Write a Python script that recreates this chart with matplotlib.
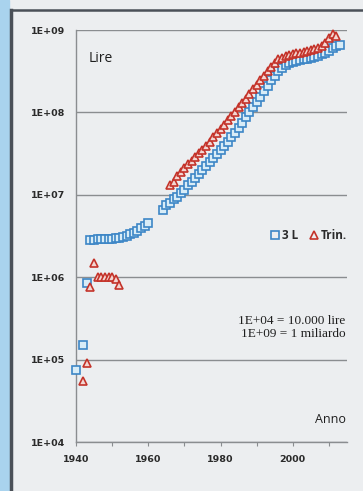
import matplotlib
matplotlib.use("Agg")
import matplotlib.pyplot as plt
from matplotlib.lines import Line2D

# ---- data ----
years_3l = [1940, 1942, 1943, 1944, 1945, 1946, 1947, 1948, 1949, 1950, 1951, 1952,
            1953, 1954, 1955, 1956, 1957, 1958, 1959, 1960,
            1964, 1965, 1966, 1967, 1968, 1969, 1970, 1971, 1972, 1973, 1974, 1975,
            1976, 1977, 1978, 1979, 1980, 1981, 1982, 1983, 1984, 1985, 1986, 1987,
            1988, 1989, 1990, 1991, 1992, 1993, 1994, 1995, 1996, 1997, 1998, 1999,
            2000, 2001, 2002, 2003, 2004, 2005, 2006, 2007, 2008, 2009, 2010, 2011,
            2012, 2013]
lire_3l = [7.5e4, 1.5e5, 8.5e5, 2.8e6, 2.8e6, 2.9e6, 2.9e6, 2.9e6, 2.9e6, 2.9e6, 3.0e6, 3.0e6,
           3.1e6, 3.2e6, 3.3e6, 3.4e6, 3.6e6, 4.0e6, 4.2e6, 4.6e6,
           6.5e6, 7.5e6, 8.0e6, 9.0e6, 9.5e6, 1.05e7, 1.15e7, 1.3e7, 1.45e7, 1.6e7, 1.8e7, 2.0e7,
           2.25e7, 2.5e7, 2.8e7, 3.1e7, 3.5e7, 3.9e7, 4.4e7, 5.0e7, 5.7e7, 6.5e7, 7.5e7, 8.8e7,
           1.02e8, 1.17e8, 1.35e8, 1.55e8, 1.8e8, 2.1e8, 2.45e8, 2.8e8, 3.2e8, 3.5e8, 3.75e8, 3.95e8,
           4.1e8, 4.2e8, 4.3e8, 4.4e8, 4.5e8, 4.6e8, 4.75e8, 4.9e8, 5.1e8, 5.3e8, 5.6e8, 6.0e8,
           6.4e8, 6.6e8]

years_trin = [1942, 1943, 1944, 1945, 1946, 1947, 1948, 1949, 1950, 1951, 1952,
              1966, 1967, 1968, 1969, 1970, 1971, 1972, 1973, 1974, 1975, 1976, 1977,
              1978, 1979, 1980, 1981, 1982, 1983, 1984, 1985, 1986, 1987, 1988, 1989,
              1990, 1991, 1992, 1993, 1994, 1995, 1996, 1997, 1998, 1999, 2000, 2001,
              2002, 2003, 2004, 2005, 2006, 2007, 2008, 2009, 2010, 2011, 2012]
lire_trin = [5.5e4, 9.2e4, 7.5e5, 1.5e6, 1.0e6, 1.0e6, 1.0e6, 1.0e6, 1.0e6, 0.95e6, 8.0e5,
             1.3e7, 1.45e7, 1.7e7, 1.9e7, 2.1e7, 2.35e7, 2.6e7, 2.9e7, 3.2e7, 3.5e7, 3.9e7, 4.4e7,
             5.0e7, 5.6e7, 6.3e7, 7.1e7, 8.0e7, 9.0e7, 1.02e8, 1.15e8, 1.3e8, 1.47e8, 1.65e8, 1.9e8,
             2.15e8, 2.45e8, 2.8e8, 3.2e8, 3.6e8, 4.0e8, 4.4e8, 4.6e8, 4.8e8, 5.0e8, 5.1e8, 5.2e8,
             5.3e8, 5.4e8, 5.5e8, 5.7e8, 5.9e8, 6.1e8, 6.4e8, 7.0e8, 8.0e8, 9.0e8, 8.5e8]

x_ticks = [1940, 1960, 1980, 2000]
y_ticks = [1e4, 1e5, 1e6, 1e7, 1e8, 1e9]
y_labels = ["1E+04", "1E+05", "1E+06", "1E+07", "1E+08", "1E+09"]
series_names = ["3 L", "Trin."]
note_lines = ["1E+04 = 10.000 lire", "1E+09 = 1 miliardo"]

# ---- figure ----
W, H = 363, 491
bg = "#eceef0"
fig = plt.figure(figsize=(W / 100, H / 100), dpi=100, facecolor=bg)

# photo frame details
fig.patches.append(plt.Rectangle((0, 0), 9 / W, 1, transform=fig.transFigure,
                                 color="#a9d3ee", zorder=0))
fig.add_artist(Line2D([11 / W, 11 / W], [0, 1 - 10 / H], transform=fig.transFigure,
                      color="#4a5058", lw=2.5))
fig.add_artist(Line2D([11 / W, 1], [1 - 10 / H, 1 - 10 / H], transform=fig.transFigure,
                      color="#4a5058", lw=1.8))

ax = fig.add_axes([76 / W, 1 - 442 / H, (347 - 76) / W, (442 - 30) / H])
ax.set_facecolor(bg)
ax.set_yscale("log")
ax.set_xlim(1940, 2015)
ax.set_ylim(1e4, 1e9)

for v in y_ticks:
    ax.axhline(v, color="#8a8d90", lw=1.0, zorder=1)

ax.plot(years_3l, lire_3l, linestyle="none", marker="s", ms=6.0, mew=1.2,
        mec="#3d86c6", mfc="#d8ecf7", zorder=3, label=series_names[0], clip_on=False)
ax.plot(years_trin, lire_trin, linestyle="none", marker="^", ms=6.4, mew=1.2,
        mec="#c4332a", mfc="#f3d6d2", zorder=4, label=series_names[1], clip_on=False)

ax.set_xticks(x_ticks)
ax.set_xticks(range(1950, 2015, 20), minor=True)
ax.set_yticks(y_ticks)
ax.set_yticklabels(y_labels)
ax.yaxis.set_minor_locator(matplotlib.ticker.NullLocator())
ax.tick_params(axis="both", which="major", labelsize=6.8, colors="#8a8d90",
               labelcolor="#2a2a2a", length=3, width=0.8)
ax.tick_params(axis="x", which="major", pad=6)
ax.tick_params(axis="x", which="minor", length=3, width=0.8, colors="#8a8d90")
ax.tick_params(axis="y", which="major", length=0, pad=20)
for lab in ax.get_yticklabels():
    lab.set_fontweight("bold")
    lab.set_horizontalalignment("center")
for lab in ax.get_xticklabels():
    lab.set_fontweight("bold")

for s in ["top", "right"]:
    ax.spines[s].set_visible(False)
for s in ["left", "bottom"]:
    ax.spines[s].set_color("#8a8d90")
    ax.spines[s].set_linewidth(1.0)

ax.text(0.045, 0.93, "Lire", transform=ax.transAxes, fontsize=10,
        fontfamily="Open Sans", color="#1e1e1e", va="center", ha="left")
ax.text(0.995, 0.055, "Anno", transform=ax.transAxes, fontsize=9,
        fontfamily="Open Sans", color="#1e1e1e", va="center", ha="right")
ax.text(0.995, 0.278, note_lines[0] + "\n" + note_lines[1], transform=ax.transAxes,
        fontsize=9.5, fontfamily="Liberation Serif", color="#1e1e1e",
        va="center", ha="right", linespacing=1.1)

leg = ax.legend(loc="center right", bbox_to_anchor=(1.03, 0.502), ncol=2,
                frameon=False, handletextpad=0.1, columnspacing=0.8,
                handlelength=1.0, borderpad=0.2,
                prop={"family": "Open Sans", "size": 8.5, "weight": "bold"})
for t in leg.get_texts():
    t.set_color("#2a2a2a")
for h in leg.legend_handles:
    h.set_markerfacecolor("none")

fig.savefig("out.png", dpi=100, facecolor=bg)
